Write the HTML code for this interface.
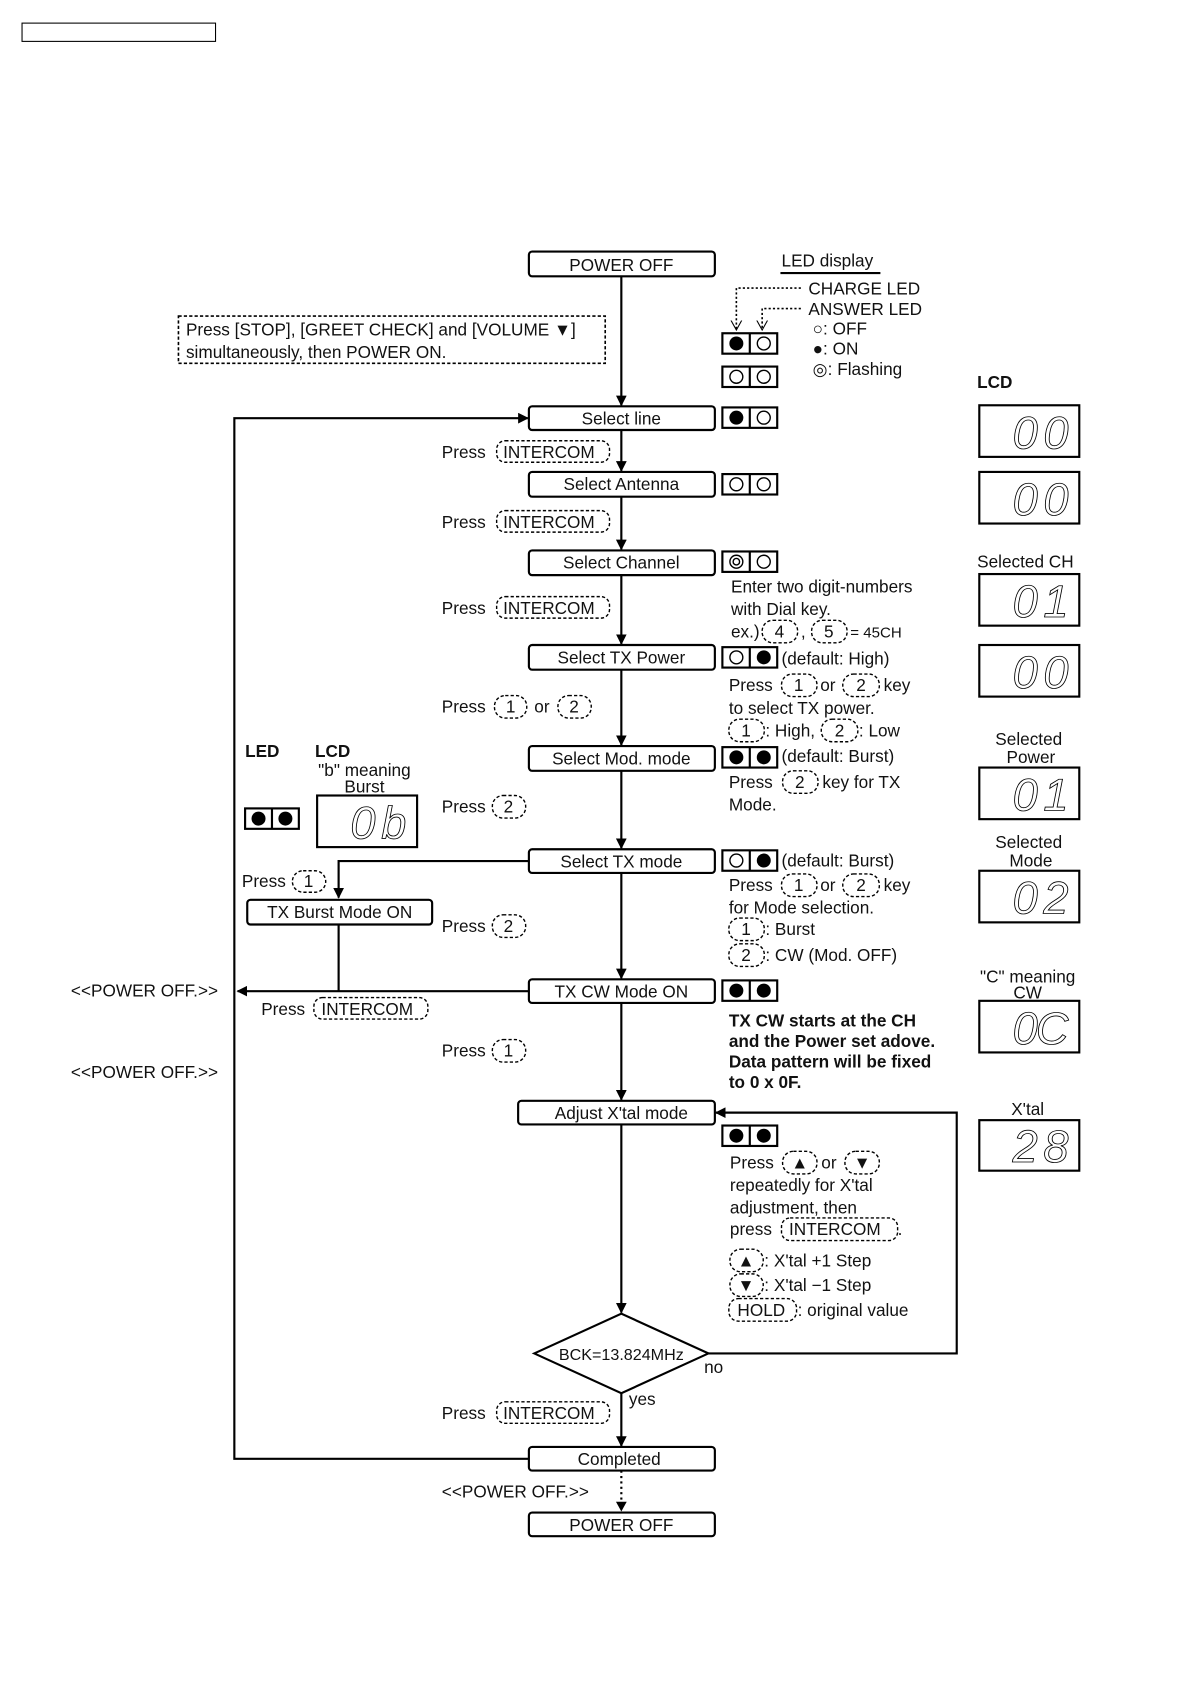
<!DOCTYPE html>
<html><head><meta charset="utf-8">
<style>
html,body{margin:0;padding:0;background:#fff;}
svg{display:block;}
text{font-family:"Liberation Sans",sans-serif;font-size:16px;fill:#111;}
.b{font-weight:bold;}
.c{text-anchor:middle;}
.box{fill:#fff;stroke:#000;stroke-width:2;}
.ln{stroke:#000;stroke-width:2;fill:none;}
.k{fill:none;stroke:#000;stroke-width:1.3;stroke-dasharray:3 2;}
.seg{font-family:"Liberation Sans",sans-serif;font-style:italic;font-size:42px;fill:#fff;stroke:#000;stroke-width:0.8;}
</style></head>
<body>
<svg width="1190" height="1684" viewBox="0 0 1107 1566.5" preserveAspectRatio="none" xmlns="http://www.w3.org/2000/svg">
<defs>
<marker id="ar" markerWidth="10" markerHeight="10" refX="9" refY="5" orient="auto" markerUnits="userSpaceOnUse">
<path d="M0,0 L10,5 L0,10 Z" fill="#000"/></marker>
<marker id="ao" markerWidth="10" markerHeight="12" refX="9" refY="6" orient="auto" markerUnits="userSpaceOnUse">
<path d="M0,1 L9,6 L0,11" fill="none" stroke="#000" stroke-width="1"/></marker>
</defs>

<rect x="20.5" y="21.5" width="180" height="17" fill="none" stroke="#000" stroke-width="1"/>

<line class="ln" x1="578" y1="257" x2="578" y2="377" marker-end="url(#ar)"/>
<line class="ln" x1="578" y1="400" x2="578" y2="438" marker-end="url(#ar)"/>
<line class="ln" x1="578" y1="462" x2="578" y2="511" marker-end="url(#ar)"/>
<line class="ln" x1="578" y1="535" x2="578" y2="599" marker-end="url(#ar)"/>
<line class="ln" x1="578" y1="623" x2="578" y2="693" marker-end="url(#ar)"/>
<line class="ln" x1="578" y1="717" x2="578" y2="789" marker-end="url(#ar)"/>
<line class="ln" x1="578" y1="812" x2="578" y2="910" marker-end="url(#ar)"/>
<line class="ln" x1="578" y1="933" x2="578" y2="1023" marker-end="url(#ar)"/>
<line class="ln" x1="578" y1="1046" x2="578" y2="1221" marker-end="url(#ar)"/>
<line class="ln" x1="578" y1="1296" x2="578" y2="1345" marker-end="url(#ar)"/>
<line x1="578" y1="1368" x2="578" y2="1398" stroke="#000" stroke-width="2" stroke-dasharray="2 3"/>
<path d="M573,1397 L578,1406 L583,1397 Z" fill="#000"/>

<polyline class="ln" points="492,1357 218,1357 218,389 491,389" marker-end="url(#ar)"/>
<polyline class="ln" points="659,1259 890,1259 890,1035 666,1035" marker-end="url(#ar)"/>
<polyline class="ln" points="492,801 315,801 315,835" marker-end="url(#ar)"/>
<line class="ln" x1="315" y1="860" x2="315" y2="922"/>
<line class="ln" x1="492" y1="922" x2="221" y2="922" marker-end="url(#ar)"/>

<g>
<rect class="box" x="492" y="234" width="173" height="23" rx="3"/><text class="c" x="578" y="252">POWER OFF</text>
<rect class="box" x="492" y="378" width="173" height="22" rx="3"/><text class="c" x="578" y="395">Select line</text>
<rect class="box" x="492" y="439" width="173" height="23" rx="3"/><text class="c" x="578" y="456">Select Antenna</text>
<rect class="box" x="492" y="512" width="173" height="23" rx="3"/><text class="c" x="578" y="529">Select Channel</text>
<rect class="box" x="492" y="600" width="173" height="23" rx="3"/><text class="c" x="578" y="617">Select TX Power</text>
<rect class="box" x="492" y="694" width="173" height="23" rx="3"/><text class="c" x="578" y="711">Select Mod. mode</text>
<rect class="box" x="492" y="790" width="173" height="22" rx="3"/><text class="c" x="578" y="807">Select TX mode</text>
<rect class="box" x="492" y="911" width="173" height="22" rx="3"/><text class="c" x="578" y="928">TX CW Mode ON</text>
<rect class="box" x="482" y="1024" width="183" height="22" rx="3"/><text class="c" x="578" y="1041">Adjust X'tal mode</text>
<rect class="box" x="230" y="837" width="172" height="23" rx="3"/><text class="c" x="316" y="854">TX Burst Mode ON</text>
<polygon class="box" points="497,1259 578,1222 659,1259 578,1296"/><text class="c" x="578" y="1265" style="font-size:15px">BCK=13.824MHz</text>
<rect class="box" x="492" y="1346" width="173" height="22" rx="3"/><text class="c" x="576" y="1363">Completed</text>
<rect class="box" x="492" y="1407" width="173" height="22" rx="3"/><text class="c" x="578" y="1424">POWER OFF</text>
</g>

<rect x="166" y="294" width="397" height="44" fill="none" stroke="#000" stroke-width="1.5" stroke-dasharray="3 2"/>
<text x="173" y="312">Press [STOP], [GREET CHECK] and [VOLUME ▼]</text>
<text x="173" y="333">simultaneously, then POWER ON.</text>

<text x="727" y="248">LED display</text>
<line x1="726" y1="254" x2="819" y2="254" stroke="#000" stroke-width="2"/>
<polyline points="745,268 685,268 685,307" fill="none" stroke="#000" stroke-width="1.5" stroke-dasharray="2 2" marker-end="url(#ao)"/>
<polyline points="745,287 709,287 709,307" fill="none" stroke="#000" stroke-width="1.5" stroke-dasharray="2 2" marker-end="url(#ao)"/>
<text x="752" y="274">CHARGE LED</text>
<text x="752" y="293">ANSWER LED</text>
<text x="756" y="311">○: OFF</text>
<text x="756" y="330">●: ON</text>
<text x="756" y="349">◎: Flashing</text>

<g>
<g transform="translate(672,310)"><rect width="51" height="19" fill="#fff" stroke="#000" stroke-width="2"/><line x1="25.5" y1="0" x2="25.5" y2="19" stroke="#000" stroke-width="2"/><circle cx="13" cy="9.5" r="6.5" fill="#000"/><circle cx="38.5" cy="9.5" r="6" fill="#fff" stroke="#000" stroke-width="1.3"/></g>
<g transform="translate(672,341)"><rect width="51" height="19" fill="#fff" stroke="#000" stroke-width="2"/><line x1="25.5" y1="0" x2="25.5" y2="19" stroke="#000" stroke-width="2"/><circle cx="13" cy="9.5" r="6" fill="#fff" stroke="#000" stroke-width="1.3"/><circle cx="38.5" cy="9.5" r="6" fill="#fff" stroke="#000" stroke-width="1.3"/></g>
<g transform="translate(672,379)"><rect width="51" height="19" fill="#fff" stroke="#000" stroke-width="2"/><line x1="25.5" y1="0" x2="25.5" y2="19" stroke="#000" stroke-width="2"/><circle cx="13" cy="9.5" r="6.5" fill="#000"/><circle cx="38.5" cy="9.5" r="6" fill="#fff" stroke="#000" stroke-width="1.3"/></g>
<g transform="translate(672,441)"><rect width="51" height="19" fill="#fff" stroke="#000" stroke-width="2"/><line x1="25.5" y1="0" x2="25.5" y2="19" stroke="#000" stroke-width="2"/><circle cx="13" cy="9.5" r="6" fill="#fff" stroke="#000" stroke-width="1.3"/><circle cx="38.5" cy="9.5" r="6" fill="#fff" stroke="#000" stroke-width="1.3"/></g>
<g transform="translate(672,513)"><rect width="51" height="19" fill="#fff" stroke="#000" stroke-width="2"/><line x1="25.5" y1="0" x2="25.5" y2="19" stroke="#000" stroke-width="2"/><circle cx="13" cy="9.5" r="6" fill="#fff" stroke="#000" stroke-width="1.3"/><circle cx="13" cy="9.5" r="3" fill="#fff" stroke="#000" stroke-width="1.3"/><circle cx="38.5" cy="9.5" r="6" fill="#fff" stroke="#000" stroke-width="1.3"/></g>
<g transform="translate(672,602)"><rect width="51" height="19" fill="#fff" stroke="#000" stroke-width="2"/><line x1="25.5" y1="0" x2="25.5" y2="19" stroke="#000" stroke-width="2"/><circle cx="13" cy="9.5" r="6" fill="#fff" stroke="#000" stroke-width="1.3"/><circle cx="38.5" cy="9.5" r="6.5" fill="#000"/></g>
<g transform="translate(672,695)"><rect width="51" height="19" fill="#fff" stroke="#000" stroke-width="2"/><line x1="25.5" y1="0" x2="25.5" y2="19" stroke="#000" stroke-width="2"/><circle cx="13" cy="9.5" r="6.5" fill="#000"/><circle cx="38.5" cy="9.5" r="6.5" fill="#000"/></g>
<g transform="translate(672,791)"><rect width="51" height="19" fill="#fff" stroke="#000" stroke-width="2"/><line x1="25.5" y1="0" x2="25.5" y2="19" stroke="#000" stroke-width="2"/><circle cx="13" cy="9.5" r="6" fill="#fff" stroke="#000" stroke-width="1.3"/><circle cx="38.5" cy="9.5" r="6.5" fill="#000"/></g>
<g transform="translate(672,912)"><rect width="51" height="19" fill="#fff" stroke="#000" stroke-width="2"/><line x1="25.5" y1="0" x2="25.5" y2="19" stroke="#000" stroke-width="2"/><circle cx="13" cy="9.5" r="6.5" fill="#000"/><circle cx="38.5" cy="9.5" r="6.5" fill="#000"/></g>
<g transform="translate(672,1047)"><rect width="51" height="19" fill="#fff" stroke="#000" stroke-width="2"/><line x1="25.5" y1="0" x2="25.5" y2="19" stroke="#000" stroke-width="2"/><circle cx="13" cy="9.5" r="6.5" fill="#000"/><circle cx="38.5" cy="9.5" r="6.5" fill="#000"/></g>
<g transform="translate(228,752)"><rect width="50" height="19" fill="#fff" stroke="#000" stroke-width="2"/><line x1="25" y1="0" x2="25" y2="19" stroke="#000" stroke-width="2"/><circle cx="12.5" cy="9.5" r="6.5" fill="#000"/><circle cx="37.5" cy="9.5" r="6.5" fill="#000"/></g>
</g>

<text class="b" x="909" y="361">LCD</text>
<rect x="911" y="377" width="93" height="48" fill="#fff" stroke="#000" stroke-width="2"/><text class="seg" x="942" y="417" textLength="52">00</text>
<rect x="911" y="439" width="93" height="48" fill="#fff" stroke="#000" stroke-width="2"/><text class="seg" x="942" y="479" textLength="52">00</text>
<text x="909" y="528">Selected CH</text>
<rect x="911" y="534" width="93" height="48" fill="#fff" stroke="#000" stroke-width="2"/><text class="seg" x="942" y="574" textLength="52">0 1</text>
<rect x="911" y="600" width="93" height="48" fill="#fff" stroke="#000" stroke-width="2"/><text class="seg" x="942" y="640" textLength="52">00</text>
<text class="c" x="957" y="693">Selected</text><text class="c" x="959" y="710">Power</text>
<rect x="911" y="714" width="93" height="48" fill="#fff" stroke="#000" stroke-width="2"/><text class="seg" x="942" y="754" textLength="52">0 1</text>
<text class="c" x="957" y="789">Selected</text><text class="c" x="959" y="806">Mode</text>
<rect x="911" y="810" width="93" height="48" fill="#fff" stroke="#000" stroke-width="2"/><text class="seg" x="942" y="850" textLength="52">02</text>
<text class="c" x="956" y="914">"C" meaning</text><text class="c" x="956" y="929">CW</text>
<rect x="911" y="931" width="93" height="48" fill="#fff" stroke="#000" stroke-width="2"/><text class="seg" x="942" y="971" textLength="52">0C</text>
<text class="c" x="956" y="1037">X'tal</text>
<rect x="911" y="1042" width="93" height="47" fill="#fff" stroke="#000" stroke-width="2"/><text class="seg" x="942" y="1081" textLength="52">28</text>

<text class="b" x="228" y="704">LED</text>
<text class="b" x="293" y="704">LCD</text>
<text class="c" x="339" y="722">"b" meaning</text>
<text class="c" x="339" y="737">Burst</text>
<rect x="295" y="740" width="93" height="48" fill="#fff" stroke="#000" stroke-width="2"/><text class="seg" x="326" y="780" textLength="52">0b</text>

<text x="411" y="426">Press</text><rect class="k" x="462" y="410" width="105" height="20" rx="8"/><text x="468" y="426">INTERCOM</text>
<text x="411" y="491">Press</text><rect class="k" x="462" y="475" width="105" height="20" rx="8"/><text x="468" y="491">INTERCOM</text>
<text x="411" y="571">Press</text><rect class="k" x="462" y="555" width="105" height="20" rx="8"/><text x="468" y="571">INTERCOM</text>
<text x="411" y="663">Press</text><rect class="k" x="460" y="647" width="30" height="21" rx="10"/><text class="c" x="475" y="663">1</text><text x="497" y="663">or</text><rect class="k" x="519" y="647" width="31" height="21" rx="10"/><text class="c" x="534" y="663">2</text>
<text x="411" y="756">Press</text><rect class="k" x="458" y="740" width="31" height="21" rx="10"/><text class="c" x="473" y="756">2</text>
<text x="411" y="867">Press</text><rect class="k" x="458" y="851" width="31" height="21" rx="10"/><text class="c" x="473" y="867">2</text>
<text x="411" y="983">Press</text><rect class="k" x="458" y="967" width="31" height="21" rx="10"/><text class="c" x="473" y="983">1</text>
<text x="411" y="1320">Press</text><rect class="k" x="462" y="1304" width="105" height="20" rx="8"/><text x="468" y="1320">INTERCOM</text>
<text x="225" y="825">Press</text><rect class="k" x="272" y="810" width="31" height="20" rx="10"/><text class="c" x="287" y="825">1</text>
<text x="243" y="944">Press</text><rect class="k" x="292" y="928" width="106" height="20" rx="8"/><text x="299" y="944">INTERCOM</text>
<text x="66" y="927">&lt;&lt;POWER OFF.&gt;&gt;</text>
<text x="66" y="1003">&lt;&lt;POWER OFF.&gt;&gt;</text>
<text x="411" y="1393">&lt;&lt;POWER OFF.&gt;&gt;</text>
<text x="585" y="1307">yes</text>
<text x="655" y="1277">no</text>

<text x="680" y="551">Enter two digit-numbers</text>
<text x="680" y="572">with Dial key.</text>
<text x="680" y="593">ex.)</text><rect class="k" x="709" y="577" width="33" height="21" rx="10"/><text class="c" x="725" y="593">4</text><text x="745" y="593">,</text><rect class="k" x="755" y="577" width="33" height="21" rx="10"/><text class="c" x="771" y="593">5</text><text x="791" y="593" style="font-size:14px">= 45CH</text>
<text x="727" y="618">(default: High)</text>
<text x="678" y="643">Press</text><rect class="k" x="727" y="627" width="33" height="21" rx="10"/><text class="c" x="743" y="643">1</text><text x="763" y="643">or</text><rect class="k" x="784" y="627" width="34" height="21" rx="10"/><text class="c" x="801" y="643">2</text><text x="822" y="643">key</text>
<text x="678" y="664">to select TX power.</text>
<rect class="k" x="678" y="669" width="33" height="21" rx="10"/><text class="c" x="694" y="685">1</text><text x="712" y="685">: High,</text><rect class="k" x="764" y="669" width="34" height="21" rx="10"/><text class="c" x="781" y="685">2</text><text x="799" y="685">: Low</text>
<text x="727" y="709">(default: Burst)</text>
<text x="678" y="733">Press</text><rect class="k" x="728" y="717" width="33" height="21" rx="10"/><text class="c" x="744" y="733">2</text><text x="765" y="733">key for TX</text>
<text x="678" y="754">Mode.</text>
<text x="727" y="806">(default: Burst)</text>
<text x="678" y="829">Press</text><rect class="k" x="727" y="813" width="33" height="21" rx="10"/><text class="c" x="743" y="829">1</text><text x="763" y="829">or</text><rect class="k" x="784" y="813" width="34" height="21" rx="10"/><text class="c" x="801" y="829">2</text><text x="822" y="829">key</text>
<text x="678" y="850">for Mode selection.</text>
<rect class="k" x="678" y="854" width="33" height="21" rx="10"/><text class="c" x="694" y="870">1</text><text x="712" y="870">: Burst</text>
<rect class="k" x="678" y="878" width="33" height="21" rx="10"/><text class="c" x="694" y="894">2</text><text x="712" y="894">: CW (Mod. OFF)</text>
<text class="b" x="678" y="955">TX CW starts at the CH</text>
<text class="b" x="678" y="974">and the Power set adove.</text>
<text class="b" x="678" y="993">Data pattern will be fixed</text>
<text class="b" x="678" y="1012">to 0 x 0F.</text>
<text x="679" y="1087">Press</text><rect class="k" x="728" y="1071" width="32" height="21" rx="10"/><text class="c" x="744" y="1087">▲</text><text x="764" y="1087">or</text><rect class="k" x="786" y="1071" width="32" height="21" rx="10"/><text class="c" x="802" y="1087">▼</text>
<text x="679" y="1108">repeatedly for X'tal</text>
<text x="679" y="1129">adjustment, then</text>
<text x="679" y="1149">press</text><rect class="k" x="727" y="1133" width="108" height="21" rx="8"/><text x="734" y="1149">INTERCOM</text><text x="835" y="1149">.</text>
<rect class="k" x="679" y="1162" width="31" height="21" rx="10"/><text class="c" x="694" y="1178">▲</text><text x="711" y="1178">: X'tal +1 Step</text>
<rect class="k" x="679" y="1185" width="31" height="21" rx="10"/><text class="c" x="694" y="1201">▼</text><text x="711" y="1201">: X'tal −1 Step</text>
<rect class="k" x="678" y="1208" width="63" height="21" rx="9"/><text x="686" y="1224">HOLD</text><text x="742" y="1224">: original value</text>
</svg>
</body></html>
